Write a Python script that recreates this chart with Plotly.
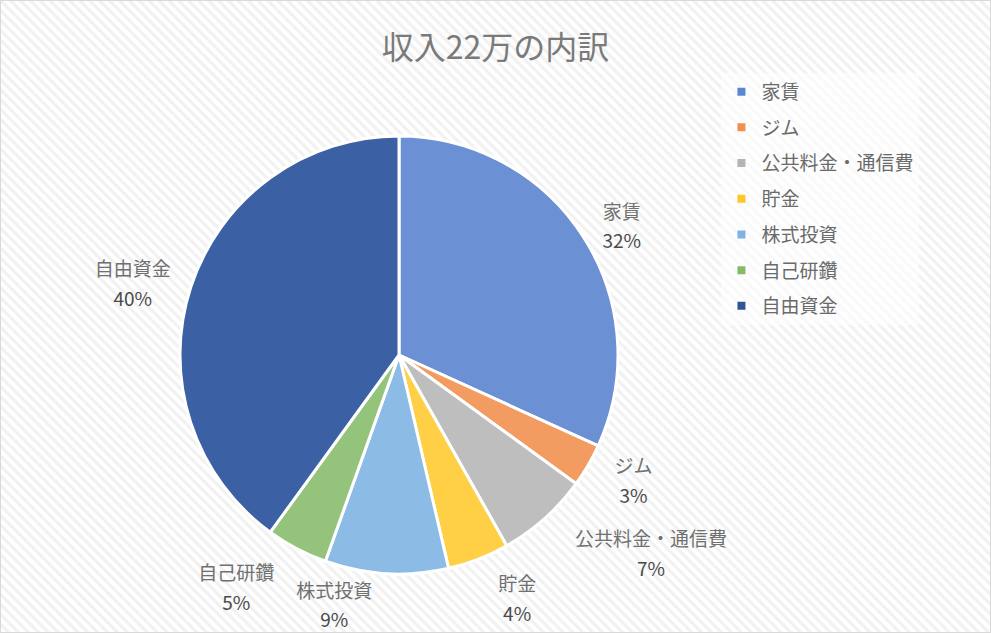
import plotly.graph_objects as go

# 収入22万の内訳 (単位: 万円, 図から読み取り)
categories = ["家賃", "ジム", "公共料金・通信費", "貯金", "株式投資", "自己研鑽", "自由資金"]
amounts = [7, 0.7, 1.5, 1, 2, 1, 8.8]
pct_labels = ["32%", "3%", "7%", "4%", "9%", "5%", "40%"]

slice_colors = ["#6b90d3", "#f29c62", "#bebebe", "#ffcf45", "#8cbbe5", "#94c37b", "#3b60a3"]
legend_colors = ["#5b86d0", "#ef8f52", "#b4b4b4", "#ffc62a", "#7fb2e2", "#86ba69", "#2f5597"]
# distance of each data label from the pie edge (px)
label_gap = [6, 14, 24, 15, 2, 18, 6]

font_jp = "Noto Sans CJK JP"

# pie geometry in px (figure 991x633)
W, H = 991, 633
cx, cy, r = 399, 355, 219


def dom(rad):
    return dict(x=[(cx - rad) / W, (cx + rad) / W],
                y=[(H - cy - rad) / H, (H - cy + rad) / H])


fig = go.Figure()

# hatched background
fig.add_trace(go.Scatter(
    x=[0, 1, 1, 0, 0], y=[0, 0, 1, 1, 0],
    mode="none", fill="toself",
    fillpattern=dict(shape="\\", size=7, solidity=0.45,
                     fgcolor="#e4e4e4", bgcolor="white"),
    showlegend=False, hoverinfo="skip",
))

fig.add_trace(go.Pie(
    labels=categories,
    values=amounts,
    sort=False,
    direction="clockwise",
    rotation=0,
    marker=dict(colors=slice_colors, line=dict(color="white", width=3)),
    textinfo="none",
    domain=dom(r),
    showlegend=False,
    hoverinfo="skip",
))

# data labels: one transparent pie per label, so each sits at its own distance
# and plotly does not shove neighbours around
lbl = ("<span style='font-size:19px;color:#707070'>%{label}</span><br>"
       "<span style='font-size:19px;color:#4a4a4a'>%{customdata}</span>")
for i in range(len(categories)):
    pos = ["none"] * len(categories)
    pos[i] = "outside"
    fig.add_trace(go.Pie(
        labels=categories,
        values=amounts,
        customdata=pct_labels,
        sort=False,
        direction="clockwise",
        rotation=0,
        marker=dict(colors=["rgba(0,0,0,0)"] * len(categories), line=dict(width=0)),
        textposition=pos,
        texttemplate=lbl,
        textfont=dict(family=font_jp, size=23, color="#595959"),
        automargin=False,
        domain=dom(r + label_gap[i]),
        showlegend=False,
        hoverinfo="skip",
    ))

# legend entries
for name, col in zip(categories, legend_colors):
    fig.add_trace(go.Scatter(
        x=[None], y=[None], mode="markers", name=name,
        marker=dict(symbol="square", size=8, color=col),
        legendgroup=name,
    ))

fig.update_layout(
    width=W, height=H,
    autosize=False,
    margin=dict(l=0, r=0, t=0, b=0, autoexpand=False),
    paper_bgcolor="white",
    plot_bgcolor="white",
    title=dict(text="収入22万の内訳", x=0.5, xanchor="center", y=0.925, yanchor="middle",
               font=dict(family=font_jp, size=32, color="#7a7a7a")),
    xaxis=dict(range=[0, 1], visible=False, fixedrange=True),
    yaxis=dict(range=[0, 1], visible=False, fixedrange=True),
    legend=dict(x=0.728, y=0.885, xanchor="left", yanchor="top",
                font=dict(family=font_jp, size=19, color="#6a6a6a"),
                bgcolor="rgba(255,255,255,0.55)", tracegroupgap=8),
    shapes=[dict(type="rect", xref="paper", yref="paper", x0=0, y0=0, x1=1, y1=1,
                 line=dict(color="#d9d9d9", width=2))],
)

fig.write_html("out.html", config={"displayModeBar": False, "responsive": False},
               post_script="document.body.style.margin='0';")
